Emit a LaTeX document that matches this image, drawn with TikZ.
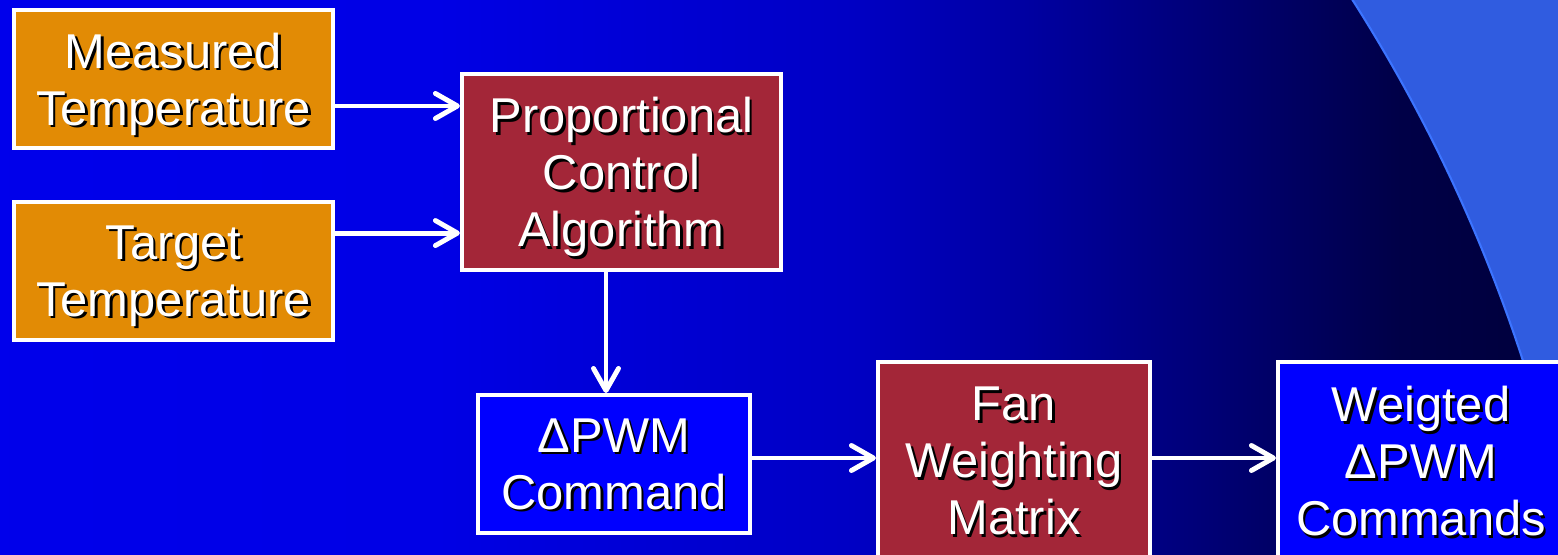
\documentclass[tikz,border=0pt]{standalone}
\usepackage{fontspec}
\setmainfont{Liberation Sans}
\usetikzlibrary{arrows.meta}

\definecolor{inorange}{RGB}{226,139,5}
\definecolor{stagered}{RGB}{163,38,56}
\definecolor{sigblue}{RGB}{0,0,255}
\definecolor{arclight}{RGB}{48,92,224}
\definecolor{arcedge}{RGB}{60,116,255}

\pgfdeclarehorizontalshading{slidebg}{100bp}{rgb(0bp)=(0,0,.92); rgb(25bp)=(0,0,.92);
  rgb(38.8bp)=(0,0,.90); rgb(52.3bp)=(0,0,.77); rgb(58bp)=(0,0,.63);
  rgb(64.5bp)=(0,0,.44); rgb(69.9bp)=(0,0,.28); rgb(75bp)=(0,0,.23); rgb(100bp)=(0,0,.23)}

% white text with a small black drop shadow
\newcommand{\sh}[1]{\makebox[0pt][l]{\hspace{0.7pt}\raisebox{-0.7pt}{\color{black}#1}}#1}

\begin{document}
\begin{tikzpicture}[
  x=0.01cm, y=-0.01cm,
  block/.style={rectangle, draw=white, line width=1.15pt, text=white, align=center,
    inner sep=0pt, text depth=0pt, font=\fontsize{13.9}{16.2}\selectfont},
  input/.style={block, fill=inorange, minimum width=3.19cm, minimum height=1.38cm},
  stage/.style={block, fill=stagered, minimum width=2.72cm, minimum height=1.98cm},
  signal/.style={block, fill=sigblue, minimum width=2.72cm, minimum height=1.38cm},
  flow/.style={draw=white, line width=1.4pt, -{Straight Barb[length=2.2mm,width=2.5mm,round]}}
]
\useasboundingbox (0,0) rectangle (1558,554);
\clip (0,0) rectangle (1558,554);
\fill[arclight] (0,0) rectangle (1558,554);
\begin{scope}
  \clip (10,854) circle (15.9cm);
  \shade[shading=slidebg] (0,0) rectangle (1558,554);
\end{scope}
\draw[arcedge, line width=0.6pt] (10,854) circle (15.9cm);

\node[input] (meas) at (173.5,79) {\sh{Measured}\\\sh{Temperature}};
\node[input] (tgt) at (173.5,271) {\sh{Target}\\\sh{Temperature}};
\node[stage, minimum width=3.19cm, minimum height=1.96cm] (prop) at (621.5,172)
  {\sh{Proportional}\\\sh{Control}\\\sh{Algorithm}};
\node[signal] (cmd) at (614,464) {\sh{ΔPWM}\\\sh{Command}};
\node[stage] (fan) at (1014,461) {\sh{Fan}\\\sh{Weighting}\\\sh{Matrix}};
\node[signal, minimum width=2.86cm, minimum height=1.98cm] (wcmd) at (1421,461)
  {\sh{Weigted}\\\sh{ΔPWM}\\\sh{Commands}};

\coordinate (p-in1) at ([yshift=0.66cm]prop.west);
\coordinate (p-in2) at ([yshift=-0.61cm]prop.west);
\coordinate (p-out) at ([xshift=-0.155cm]prop.south);

\draw[flow] (meas.east |- p-in1) -- (p-in1);
\draw[flow] (tgt.east |- p-in2) -- (p-in2);
\draw[flow] (p-out) -- (p-out |- cmd.north);
\draw[flow] ([yshift=0.06cm]cmd.east) -- ([yshift=0.06cm]cmd.east -| fan.west);
\draw[flow] ([yshift=0.03cm]fan.east) -- ([yshift=0.03cm]fan.east -| wcmd.west);
\end{tikzpicture}
\end{document}
